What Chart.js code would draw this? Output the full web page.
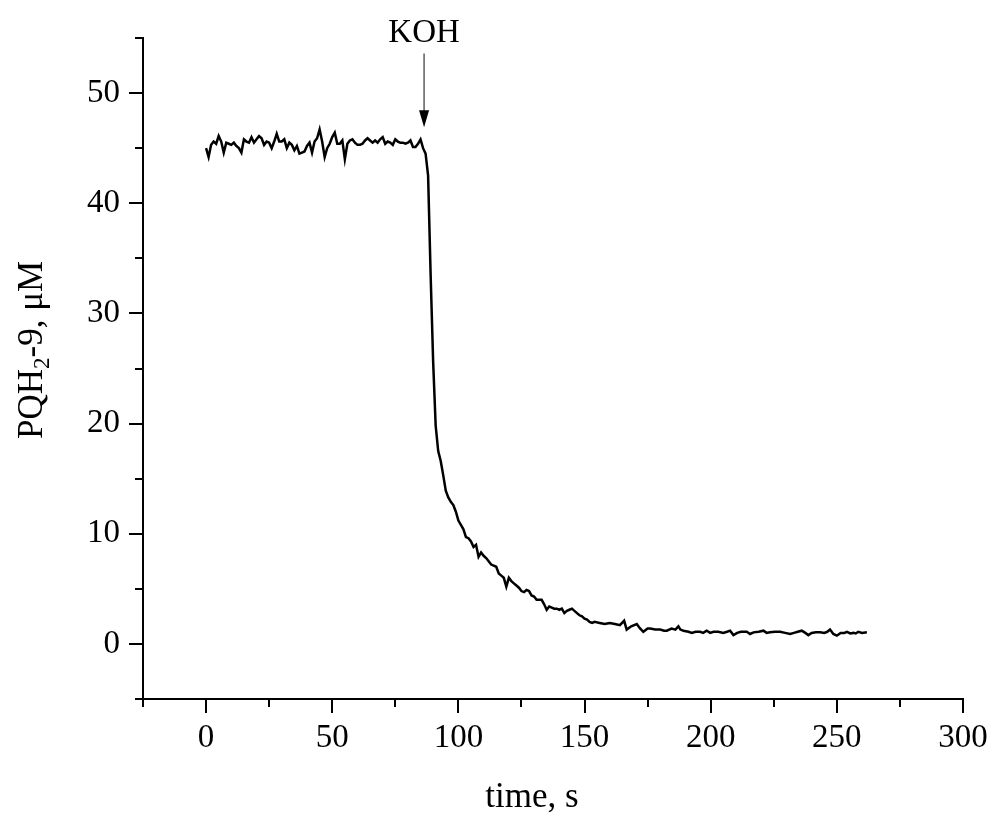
<!DOCTYPE html>
<html>
<head>
<meta charset="utf-8">
<script src="https://cdn.jsdelivr.net/npm/chart.js@4.4.1/dist/chart.umd.min.js"></script>
<style>
  html, body { margin: 0; background: #fff; }
</style>
</head>
<body>
<canvas id="chart" width="994" height="814"></canvas>
<script>
// time, s
const times = [
  0, 1, 2, 3, 4, 5, 6, 7, 8, 9,
  10, 11, 12, 13, 14, 15, 16, 17, 18, 19,
  20, 21, 22, 23, 24, 25, 26, 27, 28, 29,
  30, 31, 32, 33, 34, 35, 36, 37, 38, 39,
  40, 41, 42, 43, 44, 45, 46, 47, 48, 49,
  50, 51, 52, 53, 54, 55, 56, 57, 58, 59,
  60, 61, 62, 63, 64, 65, 66, 67, 68, 69,
  70, 71, 72, 73, 74, 75, 76, 77, 78, 79,
  80, 81, 82, 83, 84, 85, 86, 87, 88, 89,
  90, 91, 92, 93, 94, 95, 96, 97, 98, 99,
  100, 101, 102, 103, 104, 105, 106, 107, 108, 109,
  110, 111, 112, 113, 114, 115, 116, 117, 118, 119,
  120, 121, 122, 123, 124, 125, 126, 127, 128, 129,
  130, 131, 132, 133, 134, 135, 136, 137, 138, 139,
  140, 141, 142, 143, 144, 145, 146, 147, 148, 149,
  150, 151, 152, 153, 154,
  156, 158, 160, 162, 164, 165.7, 166.7, 168.5, 170.7, 172,
  173.3, 175, 176, 178, 180, 181.5, 182.6, 184.5, 186, 187.2,
  188, 189.2, 191.2, 192.5, 194, 195.8, 197, 198.4, 199.8, 201.1,
  203, 205, 206.5, 207.7, 209, 210.5, 212, 214.3, 215.6, 217,
  219, 220.9, 222.2, 223.5, 225.5, 227.5, 229.5, 231.5, 233, 234.5,
  236.1, 237.5, 238.7, 240, 241.7, 243.4, 245, 246.2, 247.3, 248.6,
  250, 251.5, 253, 254, 255.3, 256.6, 257.5, 258.5, 260, 261.9
];

// PQH2-9, uM
const pqh = [
  45.0, 44.2, 45.3, 45.6, 45.4, 46.1, 45.6, 44.6, 45.5, 45.4,
  45.3, 45.5, 45.2, 45.0, 44.6, 45.8, 45.6, 45.5, 46.0, 45.5,
  45.8, 46.1, 45.9, 45.3, 45.6, 45.5, 45.0, 45.6, 46.3, 45.6,
  45.6, 45.8, 45.0, 45.5, 45.3, 44.8, 45.2, 44.5, 44.6, 44.7,
  45.2, 45.5, 44.6, 45.6, 45.9, 46.7, 45.6, 44.2, 45.0, 45.4,
  46.0, 46.4, 45.4, 45.4, 45.7, 44.0, 45.4, 45.7, 45.8, 45.5,
  45.3, 45.3, 45.4, 45.7, 45.9, 45.7, 45.5, 45.7, 45.5, 45.8,
  46.0, 45.4, 45.6, 45.5, 45.3, 45.8, 45.6, 45.5, 45.5, 45.4,
  45.5, 45.7, 45.1, 45.1, 45.4, 45.8, 45.0, 44.5, 42.5, 33.5,
  25.6, 19.8, 17.5, 16.6, 15.3, 13.9, 13.3, 12.9, 12.6, 12.0,
  11.2, 10.8, 10.4, 9.7, 9.6, 9.3, 8.8, 9.0, 7.9, 8.3,
  8.0, 7.8, 7.5, 7.2, 7.1, 7.0, 6.4, 6.2, 6.0, 5.2,
  6.0, 5.7, 5.5, 5.3, 5.1, 4.8, 4.7, 4.9, 4.8, 4.4,
  4.3, 4.0, 4.0, 4.0, 3.6, 3.1, 3.4, 3.3, 3.2, 3.2,
  3.1, 3.2, 2.8, 3.0, 3.1, 3.2, 3.0, 2.8, 2.6, 2.5,
  2.3, 2.2, 2.0, 1.9, 2.0,
  1.9, 1.8, 1.9, 1.8, 1.7, 2.1, 1.3, 1.6, 1.8, 1.4,
  1.1, 1.4, 1.4, 1.3, 1.3, 1.2, 1.2, 1.4, 1.3, 1.6,
  1.3, 1.2, 1.1, 1.0, 1.1, 1.1, 1.0, 1.2, 1.0, 1.1,
  1.1, 1.0, 1.1, 1.2, 0.8, 1.0, 1.1, 1.1, 0.9, 1.05,
  1.1, 1.2, 1.0, 1.05, 1.1, 1.1, 1.0, 0.9, 1.0, 1.1,
  1.2, 1.0, 0.8, 1.0, 1.05, 1.05, 1.0, 1.1, 1.3, 0.9,
  0.75, 1.0, 1.0, 1.1, 0.95, 1.0, 0.95, 1.1, 1.0, 1.05
];

const kohTime = 86.4;
const font = '"Liberation Serif", "Times New Roman", serif';

const decor = {
  id: "decor",
  afterDraw(chart) {
    const { ctx, chartArea: a } = chart;
    const x = chart.scales.x, y = chart.scales.y;
    ctx.save();
    ctx.strokeStyle = "#000";
    ctx.lineWidth = 2;
    ctx.beginPath();
    // small overshoot of the x axis line past the y axis
    ctx.moveTo(a.left - 6, a.bottom);
    ctx.lineTo(a.left, a.bottom);
    x.ticks.forEach(t => {
      const px = Math.round(x.getPixelForValue(t.value));
      const len = t.value % 50 === 0 ? 14 : 8;
      ctx.moveTo(px, a.bottom);
      ctx.lineTo(px, a.bottom + len);
    });
    y.ticks.forEach(t => {
      const py = Math.round(y.getPixelForValue(t.value));
      const len = t.value % 10 === 0 ? 14 : 8;
      ctx.moveTo(a.left, py);
      ctx.lineTo(a.left - len, py);
    });
    ctx.stroke();

    // KOH arrow
    const ax = x.getPixelForValue(kohTime);
    const tip = y.getPixelForValue(46.9);
    ctx.strokeStyle = "#444";
    ctx.lineWidth = 1.3;
    ctx.beginPath();
    ctx.moveTo(ax, y.getPixelForValue(53.6));
    ctx.lineTo(ax, tip - 14);
    ctx.stroke();
    ctx.fillStyle = "#000";
    ctx.beginPath();
    ctx.moveTo(ax - 5, tip - 17);
    ctx.lineTo(ax + 5, tip - 17);
    ctx.lineTo(ax, tip);
    ctx.closePath();
    ctx.fill();

    ctx.font = "33px " + font;
    ctx.textAlign = "center";
    ctx.textBaseline = "alphabetic";
    ctx.fillText("KOH", ax, 42);

    // x title
    ctx.font = "35px " + font;
    ctx.fillText("time, s", 532, 807);

    // y title with subscript
    ctx.translate(42, 350);
    ctx.rotate(-Math.PI / 2);
    const big = "35px " + font, small = "23px " + font;
    const parts = [["PQH", big, 0], ["2", small, 7], ["-9, \u03bcM", big, 0]];
    let w = 0;
    parts.forEach(p => { ctx.font = p[1]; w += ctx.measureText(p[0]).width; });
    let cx = -w / 2;
    ctx.textAlign = "left";
    parts.forEach(p => {
      ctx.font = p[1];
      ctx.fillText(p[0], cx, p[2]);
      cx += ctx.measureText(p[0]).width;
    });
    ctx.restore();
  }
};

new Chart(document.getElementById("chart"), {
  type: "line",
  data: {
    datasets: [{
      data: times.map((t, i) => ({ x: t, y: pqh[i] })),
      borderColor: "#000",
      borderWidth: 2.5,
      pointRadius: 0,
      tension: 0,
      fill: false
    }]
  },
  options: {
    responsive: false,
    animation: false,
    devicePixelRatio: 1,
    layout: { padding: { top: 38, right: 31, left: 0, bottom: 0 } },
    plugins: { legend: { display: false }, tooltip: { enabled: false } },
    scales: {
      x: {
        type: "linear",
        min: -25,
        max: 300,
        afterFit: s => { s.height = 115; },
        grid: { display: false, drawTicks: true, tickLength: 14 },
        border: { display: true, color: "#000", width: 2 },
        ticks: {
          stepSize: 25,
          padding: 6,
          color: "#000",
          maxRotation: 0,
          autoSkip: false,
          font: { family: font, size: 33 },
          callback: v => (v % 50 === 0 ? v : "")
        }
      },
      y: {
        min: -5,
        max: 55,
        afterFit: s => { s.width = 143; },
        grid: { display: false, drawTicks: true, tickLength: 14 },
        border: { display: true, color: "#000", width: 2 },
        ticks: {
          stepSize: 5,
          padding: 9,
          color: "#000",
          autoSkip: false,
          font: { family: font, size: 33 },
          callback: v => (v % 10 === 0 ? v : "")
        }
      }
    }
  },
  plugins: [decor]
});
</script>
</body>
</html>
